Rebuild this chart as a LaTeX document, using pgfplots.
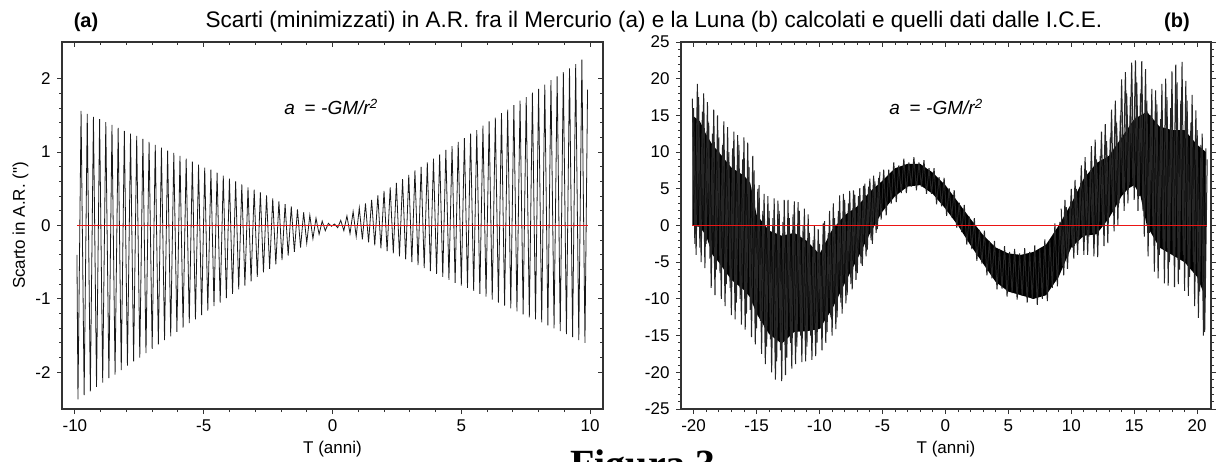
\documentclass[border=0pt]{standalone}
\usepackage{fontspec}
\setmainfont{Liberation Sans}
\newfontfamily\figfont{Liberation Serif}
\usepackage{xcolor}
\usepackage{pgfplots}
\pgfplotsset{compat=1.18}
\definecolor{zerored}{RGB}{235,20,20}

\pgfplotsset{
  panel/.style={
    scale only axis, height=367pt, anchor=south west,
    axis line style={line width=1.1pt, black!80},
    every tick/.style={line width=0.9pt, black!80},
    major tick length=5pt, minor tick length=3pt,
    minor x tick num=4, minor y tick num=4,
    tick label style={font=\fontsize{17}{19}\selectfont},
    /pgf/number format/assume math mode=true,
    label style={font=\fontsize{17}{19}\selectfont},
    xticklabel style={yshift=-2pt},
    yticklabel style={xshift=-3pt},
    xlabel style={yshift=-3pt},
  },
  mirror/.style={
    scale only axis, height=367pt, anchor=south west,
    axis line style={line width=1.1pt, black!80},
    every tick/.style={line width=0.9pt, black!80},
    major tick length=5pt, minor tick length=3pt,
    minor x tick num=4, minor y tick num=4,
    tick align=inside, xticklabels={}, yticklabels={},
  },
}

\begin{document}
\begin{tikzpicture}[x=1pt,y=1pt]
\useasboundingbox (0pt,0pt) rectangle (1219pt,461pt);

% (a) Mercurio
\begin{axis}[panel, at={(62pt,52pt)}, width=541pt,
  xmin=-10.5, xmax=10.5, ymin=-2.5, ymax=2.5,
  xtick={-10,-5,0,5,10}, ytick={-2,-1,0,1,2},
  tick align=outside, xtick pos=left, ytick pos=left,
  xlabel={T (anni)}, ylabel={Scarto in A.R. (\textquotedbl)}]
\addplot[black!90, line width=0.8pt] coordinates {
(-9.92,-0.40) (-9.88,-2.37) (-9.76,1.56) (-9.64,-2.31) (-9.52,1.52) (-9.40,-2.26) (-9.28,1.48)
(-9.16,-2.20) (-9.04,1.45) (-8.92,-2.14) (-8.80,1.41) (-8.68,-2.08) (-8.56,1.37) (-8.44,-2.03)
(-8.32,1.33) (-8.20,-1.97) (-8.08,1.29) (-7.96,-1.91) (-7.84,1.25) (-7.72,-1.85) (-7.60,1.22)
(-7.48,-1.80) (-7.36,1.18) (-7.24,-1.74) (-7.12,1.14) (-7.00,-1.68) (-6.88,1.10) (-6.76,-1.62)
(-6.64,1.06) (-6.52,-1.56) (-6.40,1.02) (-6.28,-1.51) (-6.16,0.99) (-6.04,-1.45) (-5.92,0.95)
(-5.80,-1.39) (-5.68,0.91) (-5.56,-1.33) (-5.44,0.87) (-5.32,-1.28) (-5.20,0.83) (-5.08,-1.22)
(-4.96,0.79) (-4.84,-1.16) (-4.72,0.76) (-4.60,-1.10) (-4.48,0.72) (-4.36,-1.05) (-4.24,0.68)
(-4.12,-0.99) (-4.00,0.64) (-3.88,-0.93) (-3.76,0.60) (-3.64,-0.87) (-3.52,0.56) (-3.40,-0.82)
(-3.28,0.52) (-3.16,-0.76) (-3.04,0.49) (-2.92,-0.70) (-2.80,0.45) (-2.68,-0.64) (-2.56,0.41)
(-2.44,-0.59) (-2.32,0.37) (-2.20,-0.53) (-2.08,0.33) (-1.96,-0.47) (-1.84,0.29) (-1.72,-0.41)
(-1.60,0.26) (-1.48,-0.36) (-1.36,0.22) (-1.24,-0.30) (-1.12,0.18) (-1.00,-0.24) (-0.88,0.14)
(-0.76,-0.18) (-0.64,0.10) (-0.52,-0.12) (-0.40,0.06) (-0.28,-0.07) (-0.16,0.03) (-0.04,-0.01)
(0.08,0.02) (0.20,-0.03) (0.32,0.07) (0.44,-0.07) (0.56,0.13) (0.68,-0.11) (0.80,0.19)
(0.92,-0.15) (1.04,0.24) (1.16,-0.19) (1.28,0.30) (1.40,-0.23) (1.52,0.35) (1.64,-0.27)
(1.76,0.41) (1.88,-0.31) (2.00,0.47) (2.12,-0.35) (2.24,0.52) (2.36,-0.38) (2.48,0.58)
(2.60,-0.42) (2.72,0.63) (2.84,-0.46) (2.96,0.69) (3.08,-0.50) (3.20,0.75) (3.32,-0.54)
(3.44,0.80) (3.56,-0.58) (3.68,0.86) (3.80,-0.62) (3.92,0.91) (4.04,-0.66) (4.16,0.97)
(4.28,-0.70) (4.40,1.03) (4.52,-0.74) (4.64,1.08) (4.76,-0.78) (4.88,1.14) (5.00,-0.82)
(5.12,1.19) (5.24,-0.85) (5.36,1.25) (5.48,-0.89) (5.60,1.30) (5.72,-0.93) (5.84,1.36)
(5.96,-0.97) (6.08,1.42) (6.20,-1.01) (6.32,1.47) (6.44,-1.05) (6.56,1.53) (6.68,-1.09)
(6.80,1.58) (6.92,-1.13) (7.04,1.64) (7.16,-1.17) (7.28,1.70) (7.40,-1.21) (7.52,1.75)
(7.64,-1.25) (7.76,1.81) (7.88,-1.28) (8.00,1.86) (8.12,-1.32) (8.24,1.92) (8.36,-1.36)
(8.48,1.98) (8.60,-1.40) (8.72,2.03) (8.84,-1.44) (8.96,2.09) (9.08,-1.48) (9.20,2.14)
(9.32,-1.52) (9.44,2.20) (9.56,-1.56) (9.68,2.26) (9.80,-1.60) (9.90,1.85)
};
\addplot[draw=zerored, line width=1pt, mark=none] coordinates {(-9.92,0) (9.90,0)};
\end{axis}
\begin{axis}[mirror, at={(62pt,52pt)}, width=541pt,
  xmin=-10.5, xmax=10.5, ymin=-2.5, ymax=2.5,
  xtick={-10,-5,0,5,10}, ytick={-2,-1,0,1,2},
  xtick pos=right, ytick pos=right]
\end{axis}

% (b) Luna
\begin{axis}[panel, at={(681pt,52pt)}, width=530pt,
  xmin=-21, xmax=21.1, ymin=-25, ymax=25,
  xtick={-20,-15,...,20}, ytick={-25,-20,...,25},
  tick align=outside, xtick pos=left, ytick pos=both, yticklabel pos=left,
  xlabel={T (anni)}]
\addplot[fill=black, draw=none] coordinates {
(-20.1,15) (-19.5,14.2) (-19,12.4) (-18.5,11) (-18,10) (-17,7.9) (-16,6.8) (-15.5,5.8)
(-15,1.5) (-14,-0.7) (-13,-1.4) (-12,-1) (-11,-2.1) (-10,-3.9) (-9,-0.6) (-8,1.4) (-7,2.6)
(-6,4.6) (-5,6.1) (-4,7.8) (-3,8.4) (-2,8.4) (-1,7.2) (0,5.5) (1,3.2) (2,0.9) (3,-1.3)
(4,-3) (5,-3.8) (6,-4) (7,-3.6) (8,-2.6) (9,0) (10,3) (11,6.4) (12,8.5) (13,9.5) (14,12)
(15,14.5) (16,15.5) (17,13.5) (18,13) (19,13) (20,11) (20.7,10)
(20.7,-10) (20,-7) (19,-5) (18,-4) (17,-3) (16,0) (15.5,4) (15,5.5) (14.5,5) (14,4) (13,1)
(12,-1.2) (11,-1.4) (10,-3) (9,-7) (8,-9.5) (7,-10) (6,-9.5) (5,-9) (4,-7.7) (3,-5.2)
(2,-2.7) (1,0) (0,2.3) (-1,4.3) (-2,5.5) (-3,5.3) (-4,4) (-5,1.9) (-6,-1.1) (-7,-4.6)
(-8,-7.9) (-9,-11.4) (-10,-14.1) (-11,-14.4) (-12,-14.5) (-13,-16.1) (-14,-14.8) (-15,-12)
(-15.5,-9.8) (-16,-8.8) (-17,-7.4) (-18,-5) (-18.5,-4) (-19,-1.4) (-19.5,-0.2) (-20.1,0)
};
\addplot[black!85, line width=1pt] coordinates {
(-20.1,17.3) (-19.9,-2.5) (-19.7,19.3) (-19.5,-3.0) (-19.3,15.5) (-19.1,-5.8) (-18.9,16.8)
(-18.7,-4.5) (-18.5,12.5) (-18.3,-9.5) (-18.1,15.0) (-17.9,-6.5) (-17.7,11.0) (-17.5,-11.0)
(-17.3,13.4) (-17.1,-8.5) (-16.9,10.5) (-16.7,-12.8) (-16.5,12.3) (-16.3,-10.0) (-16.1,9.0)
(-15.9,-14.2) (-15.7,11.3) (-15.5,-11.5) (-15.3,9.5) (-15.1,-16.2) (-14.9,5.0) (-14.7,-13.0)
(-14.5,2.0) (-14.3,-18.9) (-14.1,4.0) (-13.9,-15.5) (-13.7,1.0) (-13.5,-21.0) (-13.3,3.4)
(-13.1,-17.0) (-12.9,0.5) (-12.7,-20.4) (-12.5,3.5) (-12.3,-16.0) (-12.1,1.5) (-11.9,-18.9)
(-11.7,3.2) (-11.5,-15.0) (-11.3,0.0) (-11.1,-18.5) (-10.9,1.5) (-10.7,-15.0) (-10.5,-2.0)
(-10.3,-17.8) (-10.1,-0.5) (-9.9,-14.0) (-9.7,0.3) (-9.5,-16.0) (-9.3,-1.0) (-9.1,-12.5)
(-8.9,3.0) (-8.7,-14.1) (-8.5,2.0) (-8.3,-10.5) (-8.1,4.3) (-7.9,-10.6) (-7.7,3.0) (-7.5,-8.0)
(-7.3,4.8) (-7.1,-7.4) (-6.9,4.0) (-6.7,-5.2) (-6.5,5.4) (-6.3,-4.2) (-6.1,5.3) (-5.9,-2.0)
(-5.7,6.8) (-5.5,-1.0) (-5.3,6.5) (-5.1,0.8) (-4.9,7.6) (-4.7,1.4) (-4.5,7.6) (-4.3,3.0)
(-4.1,8.6) (-3.9,3.2) (-3.7,8.2) (-3.5,4.4) (-3.3,9.1) (-3.1,4.4) (-2.9,8.6) (-2.7,5.3)
(-2.5,9.3) (-2.3,4.8) (-2.1,8.6) (-1.9,5.3) (-1.7,8.9) (-1.5,4.3) (-1.3,7.8) (-1.1,4.3)
(-0.9,7.8) (-0.7,2.9) (-0.5,6.6) (-0.3,2.6) (-0.1,6.5) (0.1,1.3) (0.3,5.1) (0.5,1.1)
(0.7,4.8) (0.9,-0.3) (1.1,3.1) (1.3,-0.9) (1.5,2.8) (1.7,-2.6) (1.9,1.2) (2.1,-3.2) (2.3,1.0)
(2.5,-4.8) (2.7,-0.6) (2.9,-5.2) (3.1,-0.7) (3.3,-6.8) (3.5,-2.1) (3.7,-7.2) (3.9,-2.1)
(4.1,-8.7) (4.3,-3.2) (4.5,-8.6) (4.7,-2.8) (4.9,-9.7) (5.1,-3.6) (5.3,-9.2) (5.5,-3.2)
(5.7,-10.1) (5.9,-3.8) (6.1,-9.6) (6.3,-3.1) (6.5,-10.5) (6.7,-3.6) (6.9,-10.0) (7.1,-2.7)
(7.3,-10.8) (7.5,-3.2) (7.7,-10.0) (7.9,-1.9) (8.1,-10.3) (8.3,-2.0) (8.5,-8.5) (8.7,0.3)
(8.9,-8.3) (9.1,0.5) (9.3,-5.5) (9.5,3.5) (9.7,-5.9) (9.9,2.5) (10.1,-3.0) (10.3,6.2)
(10.5,-4.0) (10.7,5.0) (10.9,-1.5) (11.1,9.3) (11.3,-4.0) (11.5,7.0) (11.7,-1.0) (11.9,11.7)
(12.1,-4.3) (12.3,9.5) (12.5,0.0) (12.7,13.8) (12.9,-2.4) (13.1,12.0) (13.3,2.0) (13.5,17.0)
(13.7,0.1) (13.9,15.0) (14.1,4.5) (14.3,20.9) (14.5,3.0) (14.7,17.5) (14.9,5.5) (15.1,22.5)
(15.3,2.0) (15.5,18.0) (15.7,2.0) (15.9,21.3) (16.1,-4.2) (16.3,15.0) (16.5,-1.0) (16.7,18.4)
(16.9,-7.2) (17.1,14.5) (17.3,-3.0) (17.5,20.0) (17.7,-8.2) (17.9,16.0) (18.1,-4.0) (18.3,21.9)
(18.5,-8.0) (18.7,17.0) (18.9,-4.0) (19.1,19.7) (19.3,-9.6) (19.5,14.0) (19.7,-5.0) (19.9,15.7)
(20.1,-12.6) (20.3,11.0) (20.5,-15.0) (20.7,10.5)
};
\addplot[black!85, line width=1pt] coordinates {
(-20.0,16.0) (-19.8,-4.0) (-19.6,17.5) (-19.4,-5.0) (-19.2,18.0) (-19.0,-2.5) (-18.8,14.0)
(-18.6,-8.5) (-18.4,15.8) (-18.2,-6.0) (-18.0,12.0) (-17.8,-10.0) (-17.6,14.2) (-17.4,-8.0)
(-17.2,10.0) (-17.0,-12.2) (-16.8,12.8) (-16.6,-10.5) (-16.4,11.0) (-16.2,-13.5) (-16.0,12.0)
(-15.8,-12.0) (-15.6,8.0) (-15.4,-15.2) (-15.2,7.5) (-15.0,-14.0) (-14.8,5.5) (-14.6,-17.5)
(-14.4,4.3) (-14.2,-16.5) (-14.0,2.0) (-13.8,-20.0) (-13.6,3.7) (-13.4,-18.5) (-13.2,2.0)
(-13.0,-21.2) (-12.8,3.5) (-12.6,-18.0) (-12.4,1.0) (-12.2,-19.5) (-12.0,3.3) (-11.8,-16.5)
(-11.6,2.0) (-11.4,-18.6) (-11.2,2.3) (-11.0,-16.5) (-10.8,-1.0) (-10.6,-18.3) (-10.4,0.0)
(-10.2,-16.0) (-10.0,-2.5) (-9.8,-17.0) (-9.6,0.6) (-9.4,-14.5) (-9.2,2.0) (-9.0,-15.0)
(-8.8,1.0) (-8.6,-12.5) (-8.4,4.1) (-8.2,-12.0) (-8.0,3.5) (-7.8,-9.5) (-7.6,4.7) (-7.4,-8.7)
(-7.2,4.2) (-7.0,-6.5) (-6.8,5.1) (-6.6,-5.5) (-6.4,5.7) (-6.2,-3.3) (-6.0,6.4) (-5.8,-2.5)
(-5.6,6.0) (-5.4,-0.5) (-5.2,7.3)
};
\addplot[black!85, line width=1pt] coordinates {
(9.2,2.3) (9.4,-6.8) (9.6,2.5) (9.8,-3.5) (10.0,5.0) (10.2,-4.5) (10.4,5.0) (10.6,-2.0)
(10.8,8.2) (11.0,-4.0) (11.2,7.5) (11.4,-1.5) (11.6,10.8) (11.8,-4.2) (12.0,9.0) (12.2,0.5)
(12.4,12.8) (12.6,-2.8) (12.8,11.5) (13.0,1.5) (13.2,15.8) (13.4,-0.8) (13.6,14.0) (13.8,3.0)
(14.0,19.9) (14.2,2.0) (14.4,18.0) (14.6,5.5) (14.8,22.2) (15.0,3.5) (15.2,19.5) (15.4,4.0)
(15.6,22.4) (15.8,-1.5) (16.0,17.0) (16.2,-1.0) (16.4,18.6) (16.6,-6.3) (16.8,16.5) (17.0,-4.0)
(17.2,19.3) (17.4,-7.9) (17.6,17.5) (17.8,-5.0) (18.0,21.0) (18.2,-8.4) (18.4,19.5) (18.6,-6.0)
(18.8,22.3) (19.0,-8.9) (19.2,17.0) (19.4,-7.0) (19.6,17.8) (19.8,-11.0) (20.0,13.0) (20.2,-9.0)
(20.4,12.5) (20.6,-14.5) (20.8,9.0)
};
\addplot[draw=zerored, line width=1pt, mark=none] coordinates {(-20.1,0) (20.8,0)};
\end{axis}
\begin{axis}[mirror, at={(681pt,52pt)}, width=530pt,
  xmin=-21, xmax=21.1, ymin=-25, ymax=25,
  xtick={-20,-15,...,20}, ytick=\empty, xtick pos=right]
\end{axis}

% testi
\node[anchor=base, font=\fontsize{22.5}{26}\selectfont] at (654pt,433pt)
  {Scarti (minimizzati) in A.R. fra il Mercurio (a) e la Luna (b) calcolati e quelli dati dalle I.C.E.};
\node[anchor=base, font=\bfseries\fontsize{20}{24}\selectfont] at (86pt,433pt) {(a)};
\node[anchor=base, font=\bfseries\fontsize{20}{24}\selectfont] at (1177pt,433pt) {(b)};
\node[font=\itshape\fontsize{19}{21}\selectfont] at (331pt,354pt) {a\hspace{0.5em}=\hspace{0.3em}-GM/r\textsuperscript{2}};
\node[font=\itshape\fontsize{19}{21}\selectfont] at (936pt,354pt) {a\hspace{0.5em}=\hspace{0.3em}-GM/r\textsuperscript{2}};
\node[anchor=north west, inner sep=0pt, font=\figfont\bfseries\fontsize{40}{44}\selectfont] at (570pt,11pt) {Figura 3};
\end{tikzpicture}
\end{document}
